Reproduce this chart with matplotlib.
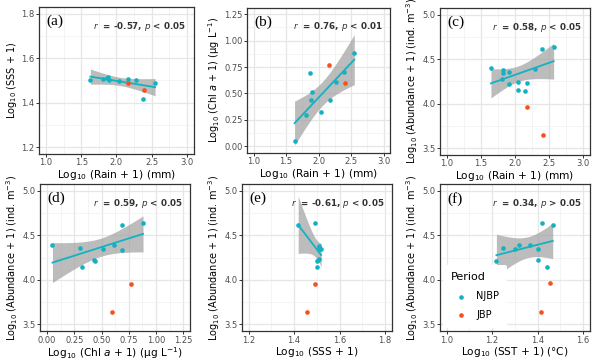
import numpy as np
import matplotlib
matplotlib.use("Agg")
import matplotlib.pyplot as plt
from matplotlib.ticker import AutoMinorLocator

# ---- data (NJBP = teal, JBP = orange) ----
a_rain_n = [1.63, 1.81, 1.87, 1.88, 1.89, 2.04, 2.17, 2.28, 2.38, 2.55]
a_sss_n = [1.504, 1.507, 1.511, 1.514, 1.501, 1.499, 1.507, 1.504, 1.417, 1.490]
a_rain_j = [2.16, 2.39]
a_sss_j = [1.489, 1.455]

b_rain_n = [1.63, 1.81, 1.90, 1.88, 1.87, 2.04, 2.17, 2.27, 2.39, 2.55]
b_chl_n = [0.05, 0.30, 0.51, 0.44, 0.69, 0.32, 0.44, 0.61, 0.70, 0.88]
b_rain_j = [2.16, 2.40]
b_chl_j = [0.77, 0.60]

c_rain_n = [1.65, 1.83, 1.83, 1.92, 1.81, 1.91, 2.05, 2.18, 2.05, 2.15, 2.29, 2.40, 2.57]
c_ab_n = [4.40, 4.375, 4.345, 4.36, 4.28, 4.22, 4.24, 4.23, 4.15, 4.14, 4.39, 4.61, 4.64]
c_rain_j = [2.18, 2.42]
c_ab_j = [3.96, 3.65]

d_chl_n = [0.05, 0.30, 0.32, 0.43, 0.44, 0.51, 0.61, 0.69, 0.69, 0.88]
d_ab_n = [4.39, 4.36, 4.14, 4.22, 4.21, 4.35, 4.39, 4.61, 4.34, 4.64]
d_chl_j = [0.60, 0.77]
d_ab_j = [3.64, 3.95]

e_sss_n = [1.418, 1.494, 1.509, 1.512, 1.519, 1.509, 1.502, 1.502, 1.505, 1.510]
e_ab_n = [4.61, 4.64, 4.38, 4.35, 4.345, 4.23, 4.21, 4.14, 4.22, 4.36]
e_sss_j = [1.49, 1.458]
e_ab_j = [3.95, 3.64]

f_sst_n = [1.219, 1.246, 1.30, 1.317, 1.365, 1.40, 1.40, 1.42, 1.44, 1.467]
f_ab_n = [4.21, 4.36, 4.35, 4.39, 4.39, 4.35, 4.22, 4.64, 4.14, 4.61]
f_sst_j = [1.455, 1.414]
f_ab_j = [3.96, 3.64]

stats = ["-0.57, $\\it{p}$ < 0.05", "0.76, $\\it{p}$ < 0.01", "0.58, $\\it{p}$ < 0.05",
         "0.59, $\\it{p}$ < 0.05", "-0.61, $\\it{p}$ < 0.05", "0.34, $\\it{p}$ > 0.05"]
letters = ["(a)", "(b)", "(c)", "(d)", "(e)", "(f)"]

TEAL = "#13b2c2"
ORANGE = "#f4511e"
T95 = {8: 2.306, 11: 2.201}

lab_rain = "Log$_{10}$ (Rain + 1) (mm)"
lab_chl = "Log$_{10}$ (Chl $\\it{a}$ + 1) (µg L$^{-1}$)"
lab_ab = "Log$_{10}$ (Abundance + 1) (ind. m$^{-3}$)"
lab_sss = "Log$_{10}$ (SSS + 1)"
lab_sst = "Log$_{10}$ (SST + 1) (°C)"

panels = [
    (a_rain_n, a_sss_n, a_rain_j, a_sss_j, lab_rain, lab_sss,
     (0.9, 3.1), np.arange(1.0, 3.01, 0.5), "{:.1f}", (1.17, 1.83), np.arange(1.2, 1.81, 0.2), "{:.1f}"),
    (b_rain_n, b_chl_n, b_rain_j, b_chl_j, lab_rain, lab_chl,
     (0.9, 3.1), np.arange(1.0, 3.01, 0.5), "{:.1f}", (-0.0625, 1.3125), np.arange(0, 1.26, 0.25), "{:.2f}"),
    (c_rain_n, c_ab_n, c_rain_j, c_ab_j, lab_rain, lab_ab,
     (0.9, 3.1), np.arange(1.0, 3.01, 0.5), "{:.1f}", (3.425, 5.075), np.arange(3.5, 5.01, 0.5), "{:.1f}"),
    (d_chl_n, d_ab_n, d_chl_j, d_ab_j, lab_chl, lab_ab,
     (-0.0625, 1.3125), np.arange(0, 1.26, 0.25), "{:.2f}", (3.425, 5.075), np.arange(3.5, 5.01, 0.5), "{:.1f}"),
    (e_sss_n, e_ab_n, e_sss_j, e_ab_j, lab_sss, lab_ab,
     (1.17, 1.83), np.arange(1.2, 1.81, 0.2), "{:.1f}", (3.425, 5.075), np.arange(3.5, 5.01, 0.5), "{:.1f}"),
    (f_sst_n, f_ab_n, f_sst_j, f_ab_j, lab_sst, lab_ab,
     (0.97, 1.63), np.arange(1.0, 1.61, 0.2), "{:.1f}", (3.425, 5.075), np.arange(3.5, 5.01, 0.5), "{:.1f}"),
]

positions = [
    [0.065, 0.576, 0.258, 0.405],
    [0.412, 0.579, 0.238, 0.40],
    [0.733, 0.573, 0.250, 0.405],
    [0.067, 0.088, 0.250, 0.405],
    [0.403, 0.088, 0.250, 0.405],
    [0.733, 0.088, 0.250, 0.405],
]

fig = plt.figure(figsize=(6, 3.63), dpi=100)

for i, (xn, yn, xj, yj, xl, yl, xlim, xt, xf, ylim, yt, yf) in enumerate(panels):
    ax = fig.add_axes(positions[i])
    xn = np.array(xn); yn = np.array(yn)

    # linear fit + 95% confidence band (NJBP only)
    n = len(xn)
    slope, icpt = np.polyfit(xn, yn, 1)
    xs = np.linspace(xn.min(), xn.max(), 80)
    fit = slope * xs + icpt
    resid = yn - (slope * xn + icpt)
    s = np.sqrt(np.sum(resid ** 2) / (n - 2))
    se = s * np.sqrt(1 / n + (xs - xn.mean()) ** 2 / np.sum((xn - xn.mean()) ** 2))
    t = T95[n - 2]
    ax.fill_between(xs, fit - t * se, fit + t * se, color="#999999", alpha=0.65, lw=0, zorder=2)
    ax.plot(xs, fit, color=TEAL, lw=1.3, zorder=3)

    ax.scatter(xn, yn, s=11, color=TEAL, zorder=4, label="NJBP", linewidths=0)
    ax.scatter(xj, yj, s=11, color=ORANGE, zorder=4, label="JBP", linewidths=0)

    ax.set_xlim(xlim); ax.set_ylim(ylim)
    ax.set_xticks(xt); ax.set_yticks(yt)
    ax.set_xticklabels([xf.format(v) for v in xt])
    ax.set_yticklabels([yf.format(v) for v in yt])
    ax.xaxis.set_minor_locator(AutoMinorLocator(2))
    ax.yaxis.set_minor_locator(AutoMinorLocator(2))
    ax.grid(which="major", color="#e6e6e6", lw=0.9, zorder=0)
    ax.grid(which="minor", color="#f0f0f0", lw=0.5, zorder=0)
    ax.set_axisbelow(True)
    ax.tick_params(which="major", labelsize=6, labelcolor="#4d4d4d", color="#333333",
                   length=2, width=0.7, pad=1.2)
    ax.tick_params(which="minor", length=0)
    for sp in ax.spines.values():
        sp.set_color("#333333"); sp.set_linewidth(0.9)
    ax.set_xlabel(xl, fontsize=7.6, labelpad=0.3)
    ax.set_ylabel(yl, fontsize=7.0, labelpad=1.5)

    ax.text(0.05, 0.9, letters[i], transform=ax.transAxes, fontsize=11,
            family="Liberation Serif", va="center", ha="left")
    ax.text(0.95, 0.87, "$\\it{r}$  = " + stats[i], transform=ax.transAxes, fontsize=6.3,
            fontweight="bold", color="#333333", va="center", ha="right")

    if i == 5:
        leg = ax.legend(loc="lower left", bbox_to_anchor=(-0.01, -0.01), title="Period",
                        fontsize=7, title_fontsize=8, frameon=True, handletextpad=0.6,
                        borderpad=0.8, labelspacing=0.9, markerscale=1.0)
        leg.get_frame().set_facecolor("white")
        leg.get_frame().set_edgecolor("none")
        leg.get_frame().set_alpha(1)
        leg._legend_box.align = "left"

fig.savefig("out.png", dpi=100)
